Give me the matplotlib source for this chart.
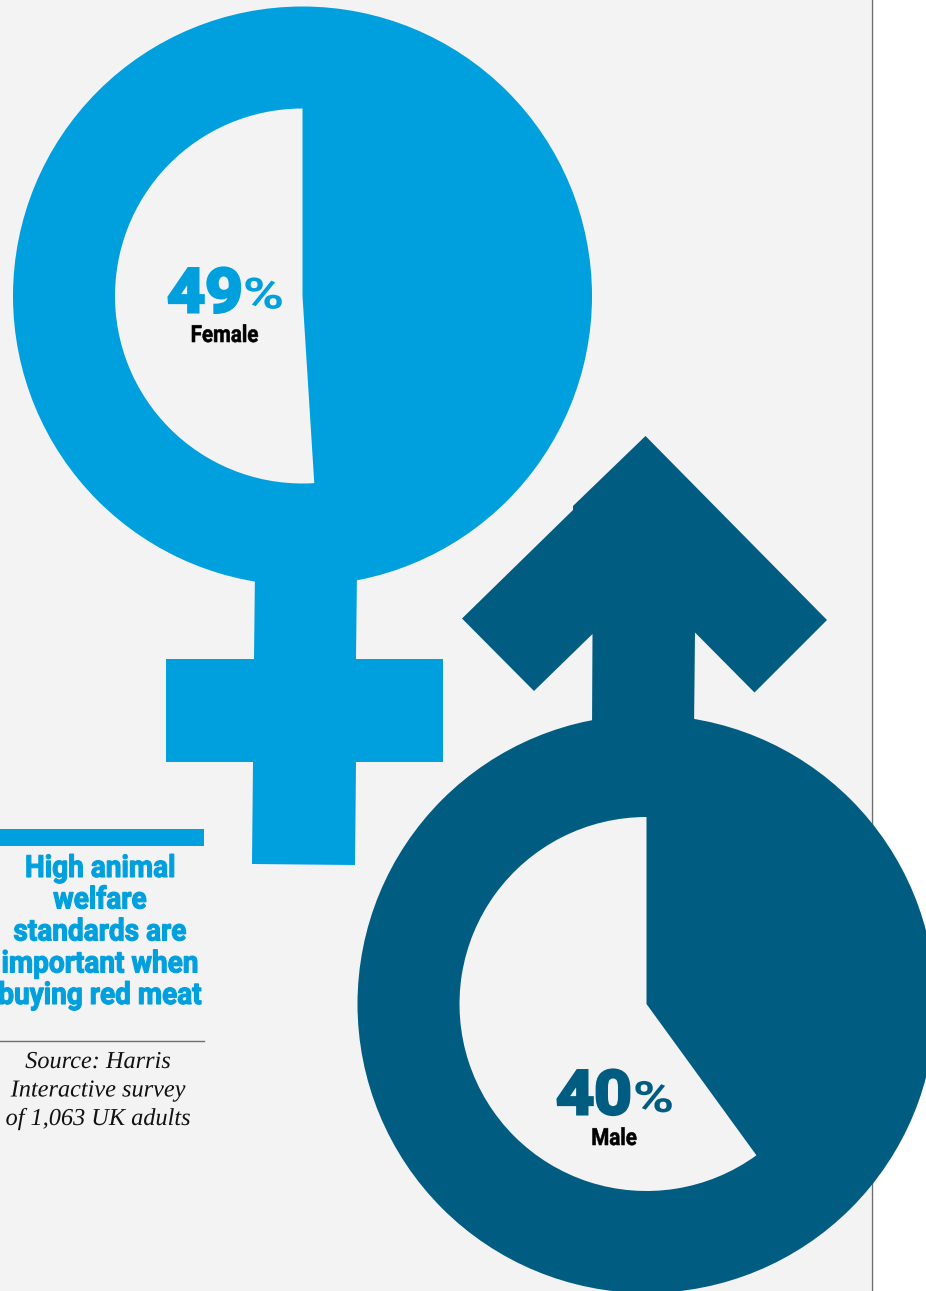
#!/usr/bin/env python3
"""Red meat survey graphic: share of women and men who rate animal welfare highly."""

import matplotlib
matplotlib.use("Agg")
import matplotlib.patheffects as pe
import matplotlib.pyplot as plt
from matplotlib.patches import Circle, Polygon, Rectangle
from matplotlib.transforms import Affine2D

GENDERS = ["Female", "Male"]
SHARES = [49, 40]
HEADLINE = ["High animal", "welfare", "standards are", "important when", "buying red meat"]
SOURCE = ["Source: Harris", "Interactive survey", "of 1,063 UK adults"]

BLUE, NAVY, PANEL, RULE = "#009fde", "#005c80", "#f3f3f3", "#6e6e6e"
W, H = 926, 1291
SANS = ["Roboto", "DejaVu Sans"]
SERIF = ["Liberation Serif", "DejaVu Serif"]


class Squeeze(pe.AbstractPathEffect):
    """Scale glyphs about the text's middle and baseline, with an optional outline to thicken them."""

    def __init__(self, sx=1.0, sy=1.0, stroke=0.0, color=None):
        super().__init__()
        self.sx, self.sy, self.stroke, self.color = sx, sy, stroke, color

    def draw_path(self, renderer, gc, tpath, affine, rgbFace=None):
        box = tpath.get_extents()
        mid = (box.x0 + box.x1) / 2
        aff = Affine2D().translate(-mid, 0).scale(self.sx, self.sy).translate(mid, 0) + affine
        if self.stroke:
            gc0 = renderer.new_gc()
            gc0.copy_properties(gc)
            gc0.set_foreground(self.color)
            gc0.set_linewidth(self.stroke)
            gc0.set_joinstyle("miter")
            renderer.draw_path(gc0, tpath, aff, rgbFace)
            gc0.restore()
        else:
            renderer.draw_path(gc, tpath, aff, rgbFace)


def px(pts):
    """Flip (x, y-down) layout points into the axes' y-up system."""
    return [(x, H - y) for x, y in pts]


def label(ax, x, y, text, size, color, sx=1.0, sy=1.0, stroke=0.0, **kw):
    kw.setdefault("family", SANS)
    kw.setdefault("fontweight", "bold")
    ax.text(x, H - y, text, ha="center", va="baseline", fontsize=size, color=color, zorder=6,
            path_effects=[Squeeze(sx, sy, stroke, color)], **kw)


def ring(ax, cx, cy, share, color, outer=290, inner=187):
    y = H - cy
    ax.add_patch(Circle((cx, y), outer, color=color, lw=0, zorder=3))
    wedges, _ = ax.pie([share, 100 - share], colors=[color, PANEL], center=(cx, y),
                       radius=inner, startangle=90, counterclock=False, frame=True,
                       wedgeprops={"linewidth": 0})
    for w in wedges:
        w.set_zorder(5)


fig = plt.figure(figsize=(W / 100, H / 100), dpi=100, facecolor="white")
ax = fig.add_axes([0, 0, 1, 1])

ring(ax, 302.5, 296, SHARES[0], BLUE, outer=289.5, inner=187.5)
ring(ax, 646.5, 1004, SHARES[1], NAVY, outer=289)

ax.set_xlim(0, W)
ax.set_ylim(0, H)
ax.set_aspect("auto")
ax.axis("off")

ax.add_patch(Rectangle((0, 0), 871, H, color=PANEL, lw=0, zorder=0))
ax.plot([871.5, 871.5], [0, H], color=RULE, lw=1, zorder=1)

# venus cross under the blue ring
ax.add_patch(Polygon(px([
    (255, 570), (357, 570), (356, 659), (443, 659), (443, 762), (356, 762),
    (355, 865), (252, 864), (253, 762), (166, 762), (166, 659), (254, 659),
]), color=BLUE, lw=0, zorder=2))

# mars arrow above the navy ring
ax.add_patch(Polygon(px([
    (645.5, 436), (827, 620), (754.5, 692.5), (695, 632.5), (694, 730), (592, 730),
    (592.5, 634), (534, 691), (462, 618.5), (573, 510), (573, 506),
]), color=NAVY, lw=0, zorder=2))

# percentages and their captions
label(ax, 205, 312, str(SHARES[0]), 44, BLUE, sx=1.08, stroke=2.2)
label(ax, 263.5, 308.5, "%", 31, BLUE, sx=1.3)
label(ax, 224.5, 342, GENDERS[0], 17, "black", sx=0.87, stroke=0.4)
label(ax, 594, 1114, str(SHARES[1]), 44, NAVY, sx=1.08, stroke=2.2)
label(ax, 653.5, 1112, "%", 31, NAVY, sx=1.3)
label(ax, 614, 1145, GENDERS[1], 17, "black", sx=0.87, stroke=0.4)

# side panel text
ax.add_patch(Rectangle((0, H - 846), 203.5, 17, color=BLUE, lw=0, zorder=2))
for y, line in zip([877, 908.5, 940.5, 972.5, 1004], HEADLINE):
    label(ax, 100, y, line, 19, BLUE, sx=1.06, sy=1.158, stroke=0.8)
ax.plot([0, 203.5], [H - 1041, H - 1041], color=RULE, lw=1, zorder=2)
for y, line in zip([1068, 1096.5, 1125], SOURCE):
    label(ax, 98, y, line, 17.5, "#111111", family=SERIF, fontweight="normal", style="italic")

fig.savefig("out.png", dpi=100, facecolor="white")
